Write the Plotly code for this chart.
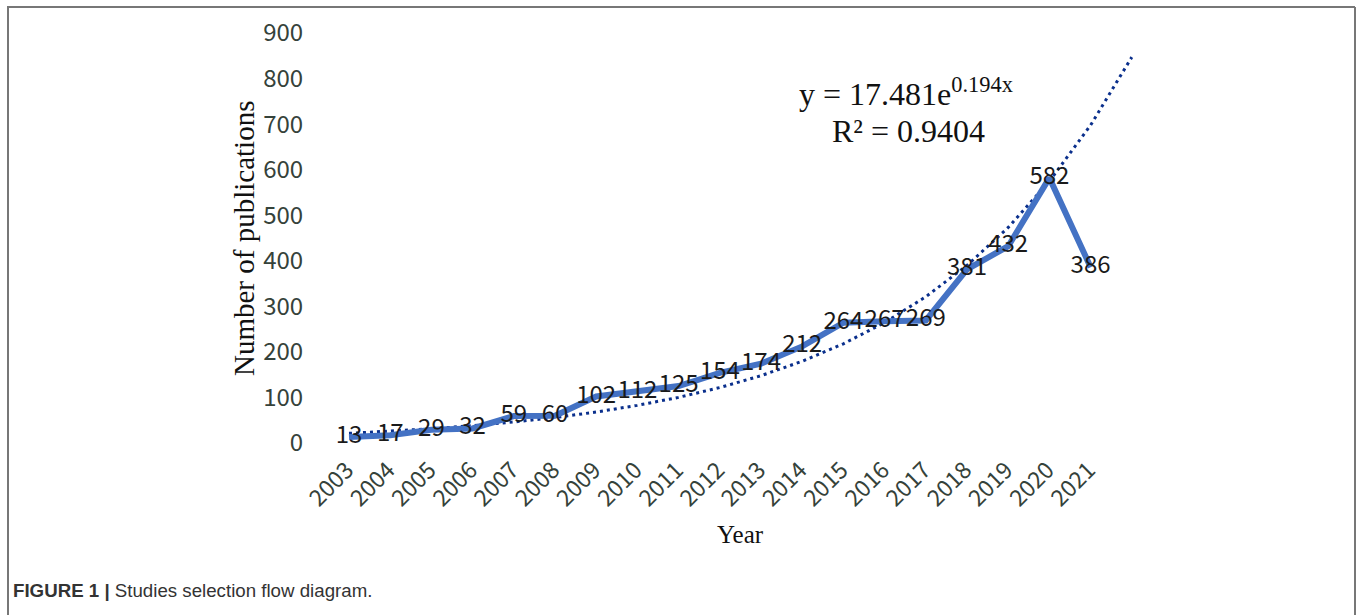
import plotly.graph_objects as go

years = ["2003", "2004", "2005", "2006", "2007", "2008", "2009", "2010", "2011", "2012",
         "2013", "2014", "2015", "2016", "2017", "2018", "2019", "2020", "2021"]
publications = [13, 17, 29, 32, 59, 60, 102, 112, 125, 154, 174, 212, 264, 267, 269, 381, 432, 582, 386]

# exponential trendline values as shown (y = 17.481e^0.194x), x = 1..20
trend_values = [21.2, 25.8, 31.3, 38.0, 46.1, 56.0, 68.0, 82.6, 100.2, 121.7,
                147.7, 179.4, 217.8, 264.4, 321.0, 389.8, 473.2, 574.6, 697.6, 847.0]

W, H = 1357, 615
OFF = 0  # body margin removed via post_script
idx = list(range(len(years)))
trend_idx = list(range(len(trend_values)))

def px_x(p):
    return (p - OFF) / W

def px_y(p):
    return 1 - (p - OFF) / H

x_left_px, x_right_px = 312, 1140
x0_px, step_px = 349, 41.2
y_top_px, y_bot_px = 33, 443

fig = go.Figure()
fig.add_trace(go.Scatter(
    x=trend_idx, y=trend_values, mode="lines",
    line=dict(color="#0a2f8c", width=3, dash="3px,4px"),
    hoverinfo="skip", showlegend=False))
fig.add_trace(go.Scatter(
    x=idx, y=publications, mode="lines",
    line=dict(color="#4472c4", width=6),
    showlegend=False))
fig.add_trace(go.Scatter(
    x=idx, y=publications, mode="text", text=[str(v) for v in publications],
    textposition="middle center",
    textfont=dict(family="Noto Sans CJK SC, Arial", size=24, color="#1a1a1a"),
    showlegend=False, hoverinfo="skip"))

xr = [(x_left_px - x0_px) / step_px, (x_right_px - x0_px) / step_px]

fig.update_layout(
    width=W, height=H,
    margin=dict(l=0, r=0, t=0, b=0),
    paper_bgcolor="white", plot_bgcolor="white",
    xaxis=dict(domain=[px_x(x_left_px), px_x(x_right_px)], range=xr,
               tickmode="array", tickvals=idx, ticktext=years, tickangle=-45,
               ticklabelshift=-2, ticklabelstandoff=8,
               showgrid=False, zeroline=False, showline=False, ticks="",
               tickfont=dict(family="Noto Sans CJK SC, Arial", size=23, color="#35423a"),
               automargin=False),
    yaxis=dict(domain=[px_y(y_bot_px), px_y(y_top_px)], range=[0, 900],
               tickmode="array", tickvals=list(range(0, 901, 100)),
               ticks="outside", ticklen=3, tickcolor="rgba(0,0,0,0)",
               showgrid=False, zeroline=False, showline=False,
               tickfont=dict(family="Noto Sans CJK SC, Arial", size=24, color="#35423a"),
               automargin=False),
    font=dict(family="Liberation Serif"),
)

annotations = [
    dict(text="Number of publications", x=px_x(244), y=px_y(239), xref="paper", yref="paper",
         textangle=-90, showarrow=False, xanchor="center", yanchor="middle",
         font=dict(family="Liberation Serif", size=29, color="#111")),
    dict(text="Year", x=px_x(741), y=px_y(534), xref="paper", yref="paper",
         showarrow=False, xanchor="center", yanchor="middle",
         font=dict(family="Liberation Serif", size=25, color="#111")),
    dict(text="y = 17.481e<sup>0.194x</sup>", x=px_x(906), y=px_y(92), xref="paper", yref="paper",
         showarrow=False, xanchor="center", yanchor="middle",
         font=dict(family="Liberation Serif", size=32, color="#111")),
    dict(text="R² = 0.9404", x=px_x(908), y=px_y(131), xref="paper", yref="paper",
         showarrow=False, xanchor="center", yanchor="middle",
         font=dict(family="Liberation Serif", size=32, color="#111")),
    dict(text="<b>FIGURE 1 |</b> Studies selection flow diagram.", x=px_x(11), y=px_y(590),
         xref="paper", yref="paper", showarrow=False, xanchor="left", yanchor="middle",
         font=dict(family="Liberation Sans, Arial", size=18.7, color="#333")),
]
fig.update_layout(annotations=annotations)

border = dict(color="#777", width=2)
fig.update_layout(shapes=[
    dict(type="line", xref="paper", yref="paper", x0=px_x(7), x1=px_x(1355), y0=px_y(7), y1=px_y(7), line=border),
    dict(type="line", xref="paper", yref="paper", x0=px_x(8), x1=px_x(8), y0=px_y(7), y1=px_y(615), line=border),
    dict(type="line", xref="paper", yref="paper", x0=px_x(1355), x1=px_x(1355), y0=px_y(7), y1=px_y(615), line=border),
])

fig.write_html("out.html", config={"displayModeBar": False},
               post_script="document.body.style.margin='0';document.body.style.overflow='hidden';")
